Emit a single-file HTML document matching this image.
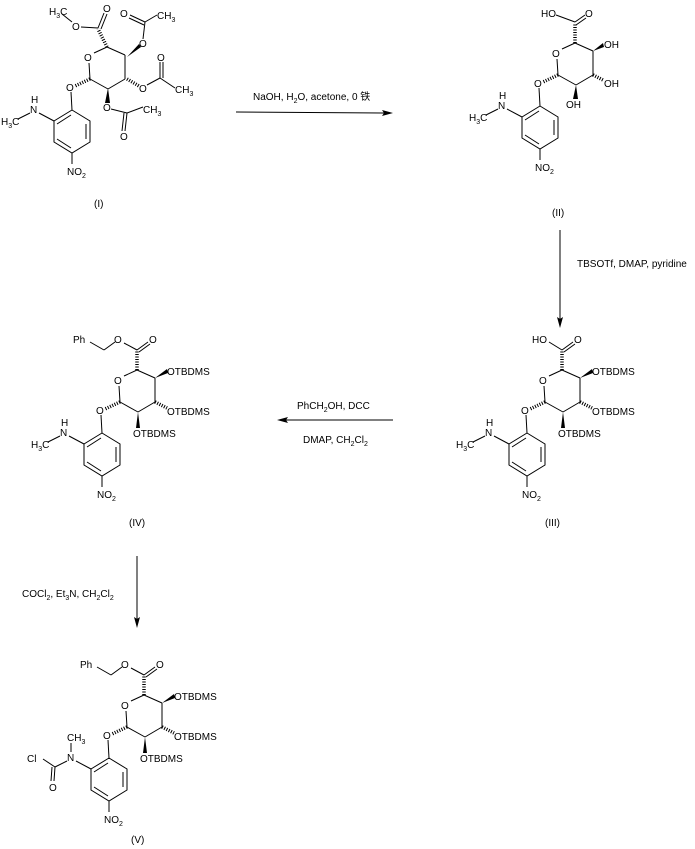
<!DOCTYPE html>
<html><head><meta charset="utf-8"><style>
html,body{margin:0;padding:0;background:#fff}
svg{display:block}
text{font-family:"Liberation Sans","Noto Sans CJK SC",sans-serif;font-size:10px;fill:#000}
line,polyline{stroke:#000;stroke-width:1;fill:none}
.h{stroke-width:3.5;stroke-dasharray:1 1.5}
</style></head><body>
<svg width="695" height="849" viewBox="0 0 695 849" xmlns="http://www.w3.org/2000/svg">
<defs>
<g id="core">
<line x1="562" y1="370" x2="549" y2="376"/>
<line x1="545" y1="402" x2="544" y2="386"/>
<line x1="562" y1="370" x2="580" y2="378"/>
<line x1="580" y1="378" x2="580" y2="402"/>
<line x1="580" y1="402" x2="563" y2="412"/>
<line x1="563" y1="412" x2="545" y2="402"/>
<line class="h" x1="545" y1="402" x2="530" y2="409"/>
<line x1="526" y1="415" x2="527" y2="433"/>
<polyline points="527,433 545,444 545,465 527,476 509,465 509,444 527,433"/>
<line x1="541" y1="447" x2="541" y2="462"/>
<line x1="512" y1="447" x2="526" y2="438"/>
<line x1="512" y1="462" x2="526" y2="471"/>
<line x1="527" y1="476" x2="527" y2="487"/>
<line x1="509" y1="444" x2="494" y2="436"/>
</g>
<g id="nme"><line x1="485" y1="436" x2="473" y2="442"/></g>
<g id="tb">
<polygon points="580,378 592,369 593,373"/>
<line class="h" x1="580" y1="402" x2="592" y2="408"/>
<polygon points="563,412 561,428 565,428"/>
</g>
</defs>

<!-- Compound I -->
<use href="#core" transform="translate(-455,-323)"/>
<use href="#nme" transform="translate(-455,-323)"/>
<g>
<text x="49" y="15">H<tspan font-size="7" dy="3">3</tspan><tspan dy="-3">C</tspan></text>
<line x1="62" y1="14" x2="72" y2="22"/>
<text x="72" y="30">O</text>
<line x1="81" y1="27" x2="98" y2="28"/>
<line x1="98" y1="28" x2="104" y2="13"/><line x1="101" y1="29" x2="107" y2="14"/>
<text x="103" y="12">O</text>
<line class="h" x1="107" y1="47" x2="98" y2="29"/>
<polygon points="127,57 139,44 141,47"/>
<text x="139" y="47">O</text>
<line x1="143" y1="39" x2="145" y2="22"/>
<line x1="145" y1="22" x2="130" y2="15"/><line x1="144" y1="25" x2="129" y2="18"/>
<text x="120" y="17">O</text>
<line x1="145" y1="22" x2="157" y2="15"/>
<text x="157" y="19">CH<tspan font-size="7" dy="3">3</tspan></text>
<line class="h" x1="127" y1="79" x2="139" y2="86"/>
<text x="139" y="92">O</text>
<line x1="147" y1="85" x2="160" y2="78"/>
<line x1="160" y1="78" x2="160" y2="62"/><line x1="163" y1="78" x2="163" y2="62"/>
<text x="157" y="61">O</text>
<line x1="160" y1="78" x2="175" y2="88"/>
<text x="175" y="93">CH<tspan font-size="7" dy="3">3</tspan></text>
<polygon points="108,88 105,103 110,103"/>
<text x="103" y="111">O</text>
<line x1="111" y1="109" x2="127" y2="113"/>
<line x1="127" y1="113" x2="125" y2="131"/><line x1="124" y1="113" x2="122" y2="131"/>
<text x="120" y="140">O</text>
<line x1="127" y1="113" x2="143" y2="107"/>
<text x="143" y="113">CH<tspan font-size="7" dy="3">3</tspan></text>
</g>
<g transform="translate(-455,-323)">
<text x="539" y="384">O</text><text x="521" y="414">O</text>
<text x="485" y="436">N</text><text x="486" y="426">H</text>
<text x="456" y="448">H<tspan font-size="7" dy="3">3</tspan><tspan dy="-3">C</tspan></text>
<text x="522" y="498">NO<tspan font-size="7" dy="3">2</tspan></text>
</g>
<text x="94" y="207">(I)</text>

<!-- Arrow 1 -->
<text x="253" y="100">NaOH, H<tspan font-size="7" dy="3">2</tspan><tspan dy="-3">O, acetone, 0 铁</tspan></text>
<line x1="236" y1="112" x2="386" y2="113"/>
<polygon points="393,113 382,110 384,113 382,116"/>

<!-- Compound II -->
<use href="#core" transform="translate(13,-327)"/>
<use href="#nme" transform="translate(13,-327)"/>
<line class="h" x1="575" y1="43" x2="575" y2="23"/>
<line x1="575" y1="22" x2="585" y2="15"/><line x1="576" y1="25" x2="586" y2="18"/>
<text x="585" y="17">O</text>
<line x1="575" y1="22" x2="556" y2="15"/>
<text x="541" y="17">HO</text>
<polygon points="593,51 603,43 604,47"/>
<text x="604" y="48">OH</text>
<line class="h" x1="593" y1="75" x2="603" y2="80"/>
<text x="604" y="87">OH</text>
<polygon points="576,85 573,99 578,99"/>
<text x="566" y="108">OH</text>
<g transform="translate(13,-327)">
<text x="539" y="384">O</text><text x="521" y="414">O</text>
<text x="485" y="436">N</text><text x="486" y="426">H</text>
<text x="456" y="448">H<tspan font-size="7" dy="3">3</tspan><tspan dy="-3">C</tspan></text>
<text x="522" y="498">NO<tspan font-size="7" dy="3">2</tspan></text>
</g>
<text x="552" y="216">(II)</text>

<!-- Arrow 2 -->
<line x1="560" y1="230" x2="560" y2="320"/>
<polygon points="560,328 557,317 560,319 563,317"/>
<text x="577" y="267">TBSOTf, DMAP, pyridine</text>

<!-- Compound III -->
<use href="#core"/>
<use href="#nme"/>
<use href="#tb"/>
<line class="h" x1="562" y1="370" x2="562" y2="351"/>
<line x1="562" y1="350" x2="573" y2="342"/><line x1="564" y1="352" x2="575" y2="344"/>
<text x="574" y="343">O</text>
<line x1="562" y1="350" x2="549" y2="342"/>
<text x="532" y="343">HO</text>
<text x="592" y="375">OTBDMS</text>
<text x="592" y="415">OTBDMS</text>
<text x="558" y="437">OTBDMS</text>
<text x="539" y="384">O</text><text x="521" y="414">O</text>
<text x="485" y="436">N</text><text x="486" y="426">H</text>
<text x="456" y="448">H<tspan font-size="7" dy="3">3</tspan><tspan dy="-3">C</tspan></text>
<text x="522" y="498">NO<tspan font-size="7" dy="3">2</tspan></text>
<text x="545" y="526">(III)</text>

<!-- Arrow 3 -->
<line x1="393" y1="420" x2="285" y2="420"/>
<polygon points="277,420 288,417 286,420 288,423"/>
<text x="297" y="409">PhCH<tspan font-size="7" dy="3">2</tspan><tspan dy="-3">OH, DCC</tspan></text>
<text x="303" y="443">DMAP, CH<tspan font-size="7" dy="3">2</tspan><tspan dy="-3">Cl</tspan><tspan font-size="7" dy="3">2</tspan></text>

<!-- Compound IV -->
<g transform="translate(-425,0)">
<use href="#core"/><use href="#nme"/><use href="#tb"/>
<line class="h" x1="562" y1="370" x2="562" y2="351"/>
<line x1="562" y1="350" x2="573" y2="342"/><line x1="564" y1="352" x2="575" y2="344"/>
<text x="574" y="343">O</text>
<line x1="562" y1="350" x2="549" y2="343"/>
<text x="539" y="343">O</text>
<line x1="540" y1="342" x2="529" y2="350"/>
<line x1="529" y1="350" x2="515" y2="342"/>
<text x="498" y="343">Ph</text>
<text x="592" y="375">OTBDMS</text>
<text x="592" y="415">OTBDMS</text>
<text x="558" y="437">OTBDMS</text>
<text x="539" y="384">O</text><text x="521" y="414">O</text>
<text x="485" y="436">N</text><text x="486" y="426">H</text>
<text x="456" y="448">H<tspan font-size="7" dy="3">3</tspan><tspan dy="-3">C</tspan></text>
<text x="522" y="498">NO<tspan font-size="7" dy="3">2</tspan></text>
</g>
<text x="129" y="526">(IV)</text>

<!-- Arrow 4 -->
<line x1="137" y1="556" x2="137" y2="620"/>
<polygon points="137,628 134,617 137,619 140,617"/>
<text x="22" y="597">COCl<tspan font-size="7" dy="3">2</tspan><tspan dy="-3">, Et</tspan><tspan font-size="7" dy="3">3</tspan><tspan dy="-3">N, CH</tspan><tspan font-size="7" dy="3">2</tspan><tspan dy="-3">Cl</tspan><tspan font-size="7" dy="3">2</tspan></text>

<!-- Compound V -->
<g transform="translate(-418,325)">
<use href="#core"/><use href="#tb"/>
<line class="h" x1="562" y1="370" x2="562" y2="351"/>
<line x1="562" y1="350" x2="573" y2="342"/><line x1="564" y1="352" x2="575" y2="344"/>
<text x="574" y="343">O</text>
<line x1="562" y1="350" x2="549" y2="343"/>
<text x="539" y="343">O</text>
<line x1="540" y1="342" x2="529" y2="350"/>
<line x1="529" y1="350" x2="515" y2="342"/>
<text x="498" y="343">Ph</text>
<text x="592" y="375">OTBDMS</text>
<text x="592" y="415">OTBDMS</text>
<text x="558" y="437">OTBDMS</text>
<text x="539" y="384">O</text><text x="521" y="414">O</text>
<text x="485" y="436">N</text>
<line x1="489" y1="427" x2="489" y2="418"/>
<text x="485" y="416">CH<tspan font-size="7" dy="3">3</tspan></text>
<line x1="485" y1="436" x2="473" y2="442"/>
<line x1="473" y1="442" x2="461" y2="434"/>
<line x1="473" y1="442" x2="472" y2="456"/><line x1="470" y1="442" x2="469" y2="456"/>
<text x="467" y="466">O</text>
<text x="445" y="437">Cl</text>
<text x="522" y="498">NO<tspan font-size="7" dy="3">2</tspan></text>
</g>
<text x="131" y="843">(V)</text>
</svg>
</body></html>
